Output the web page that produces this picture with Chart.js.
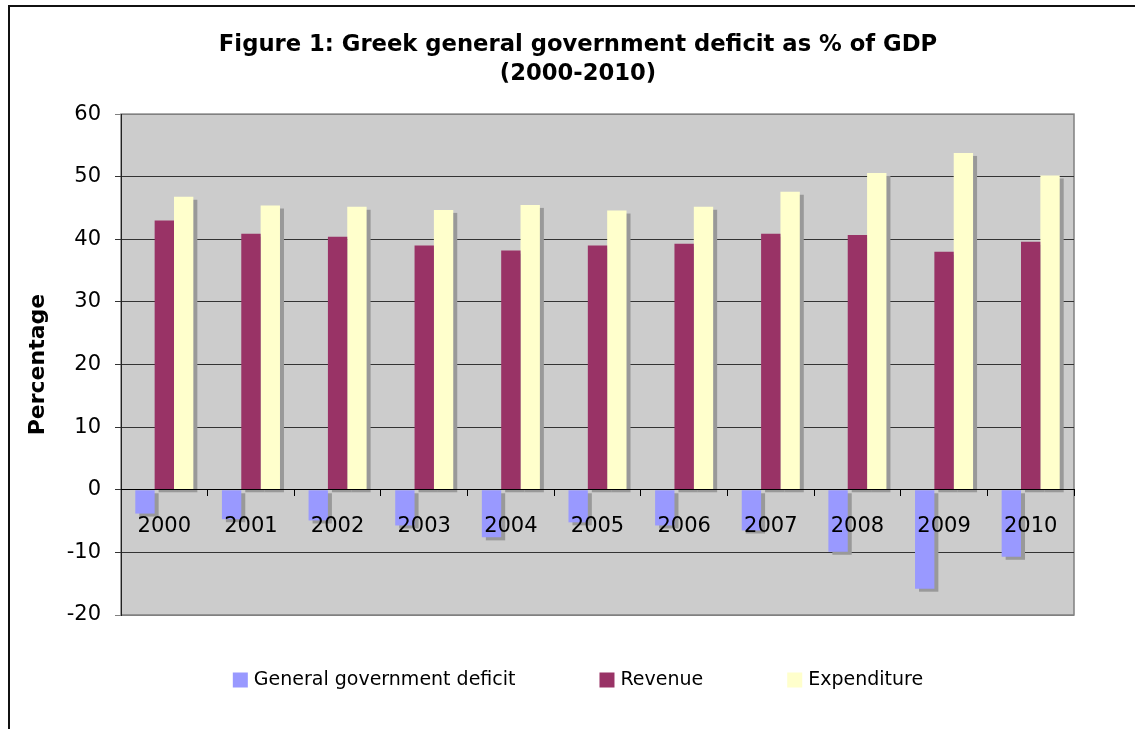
<!DOCTYPE html>
<html>
<head>
<meta charset="utf-8">
<script src="https://cdn.jsdelivr.net/npm/chart.js@4"></script>
<style>
  html, body { margin: 0; padding: 0; background: #fff; overflow: hidden; }
  #frame {
    position: absolute; left: 8px; top: 5px;
    width: 1136px; height: 740px;
    border: 2px solid #111;
  }
  #myChart { display: block; }
</style>
</head>
<body>
<div id="frame">
  <canvas id="myChart" width="1136" height="740"></canvas>
</div>
<script>
// Greek public finances, % of GDP
var years = ['2000', '2001', '2002', '2003', '2004', '2005', '2006', '2007', '2008', '2009', '2010'];
var deficit = [-3.8, -4.7, -4.9, -5.7, -7.6, -5.2, -5.7, -6.5, -9.9, -15.8, -10.7];
var revenue = [43.0, 40.9, 40.4, 39.0, 38.2, 39.0, 39.3, 40.9, 40.7, 38.0, 39.6];
var expenditure = [46.8, 45.4, 45.2, 44.7, 45.5, 44.6, 45.2, 47.6, 50.6, 53.8, 50.2];
var yTicks = [-20, -10, 0, 10, 20, 30, 40, 50, 60];

var FONT = "'DejaVu Sans', Verdana, sans-serif";

// grey plot area with a thin border, like an old Excel chart
var plotBackground = {
    id: 'plotBackground',
    beforeDraw: function (chart) {
        var a = chart.chartArea, ctx = chart.ctx;
        ctx.save();
        ctx.fillStyle = '#cccccc';
        ctx.fillRect(a.left, a.top, a.right - a.left, a.bottom - a.top);
        ctx.strokeStyle = '#808080';
        ctx.lineWidth = 1.5;
        ctx.strokeRect(a.left, a.top, a.right - a.left, a.bottom - a.top);
        ctx.restore();
    }
};

// drop shadows under every bar, drawn before the bars themselves
var barShadows = {
    id: 'barShadows',
    beforeDatasetsDraw: function (chart) {
        var ctx = chart.ctx;
        ctx.save();
        ctx.fillStyle = '#999999';
        chart.data.datasets.forEach(function (ds, i) {
            chart.getDatasetMeta(i).data.forEach(function (bar) {
                var p = bar.getProps(['x', 'y', 'base', 'width'], true);
                var top = Math.min(p.y, p.base);
                var h = Math.abs(p.y - p.base);
                ctx.fillRect(p.x - p.width / 2 + 4, top + 3, p.width, h);
            });
        });
        ctx.restore();
    }
};

// legend row under the plot
var bottomLegend = {
    id: 'bottomLegend',
    afterDraw: function (chart) {
        var ctx = chart.ctx;
        var box = 15, gap = 6, spacing = 84, cy = 673;
        ctx.save();
        ctx.font = '19px ' + FONT;
        var items = chart.data.datasets.map(function (ds) {
            return { text: ds.label, color: ds.backgroundColor, w: ctx.measureText(ds.label).width };
        });
        var total = 0;
        items.forEach(function (it, i) {
            total += box + gap + it.w + (i < items.length - 1 ? spacing : 0);
        });
        var x = (chart.width - total) / 2;
        ctx.textBaseline = 'middle';
        ctx.textAlign = 'left';
        items.forEach(function (it) {
            ctx.fillStyle = it.color;
            ctx.fillRect(x, cy - box / 2, box, box);
            ctx.fillStyle = '#000';
            ctx.fillText(it.text, x + box + gap, cy);
            x += box + gap + it.w + spacing;
        });
        ctx.restore();
    }
};

var ctx = document.getElementById('myChart').getContext('2d');
var chart = new Chart(ctx, {
    type: 'bar',
    data: {
        labels: years,
        datasets: [{
            label: 'General government deficit',
            backgroundColor: '#9999ff',
            data: deficit
        }, {
            label: 'Revenue',
            backgroundColor: '#993366',
            data: revenue
        }, {
            label: 'Expenditure',
            backgroundColor: '#ffffcc',
            data: expenditure
        }]
    },
    plugins: [plotBackground, barShadows, bottomLegend],
    options: {
        responsive: false,
        animation: false,
        events: [],
        layout: { padding: { left: 0, right: 0, top: 0, bottom: 132 } },
        datasets: {
            bar: { categoryPercentage: 0.67, barPercentage: 1.0, borderWidth: 0 }
        },
        plugins: {
            legend: { display: false },
            tooltip: { enabled: false },
            title: {
                display: true,
                text: ['Figure 1: Greek general government deficit as % of GDP', '(2000-2010)'],
                color: '#000',
                font: { family: FONT, size: 22.7, weight: 'bold', lineHeight: 1.28 },
                padding: { top: 24, bottom: 25 }
            }
        },
        scales: {
            x: {
                position: { y: 0 },
                offset: true,
                grid: {
                    offset: true,
                    drawOnChartArea: false,
                    drawTicks: true,
                    tickLength: 6,
                    color: '#000'
                },
                border: { display: true, color: '#000', width: 1, z: 1 },
                ticks: {
                    z: 1,
                    color: '#000',
                    padding: 18,
                    font: { family: FONT, size: 21 }
                }
            },
            y: {
                min: -20,
                max: 60,
                afterFit: function (scale) { scale.width = 111; },
                afterBuildTicks: function (scale) {
                    scale.ticks = yTicks.map(function (v) { return { value: v }; });
                },
                grid: {
                    color: function (c) {
                        return (c.tick && (c.tick.value === 60 || c.tick.value === -20)) ? '#808080' : '#333333';
                    },
                    tickLength: 6,
                    lineWidth: 1
                },
                border: { display: true, color: '#222', width: 1 },
                ticks: {
                    color: '#000',
                    padding: 14,
                    font: { family: FONT, size: 21 }
                },
                title: {
                    display: true,
                    text: 'Percentage',
                    color: '#000',
                    font: { family: FONT, size: 22, weight: 'bold' },
                    padding: { top: 15, bottom: 0 }
                }
            },
            // empty strip on the right so the title stays centred on the whole frame
            spacer: {
                type: 'linear',
                position: 'right',
                grid: { display: false },
                border: { display: false },
                ticks: { display: false },
                afterFit: function (scale) { scale.width = 72; }
            }
        }
    }
});
</script>
</body>
</html>
